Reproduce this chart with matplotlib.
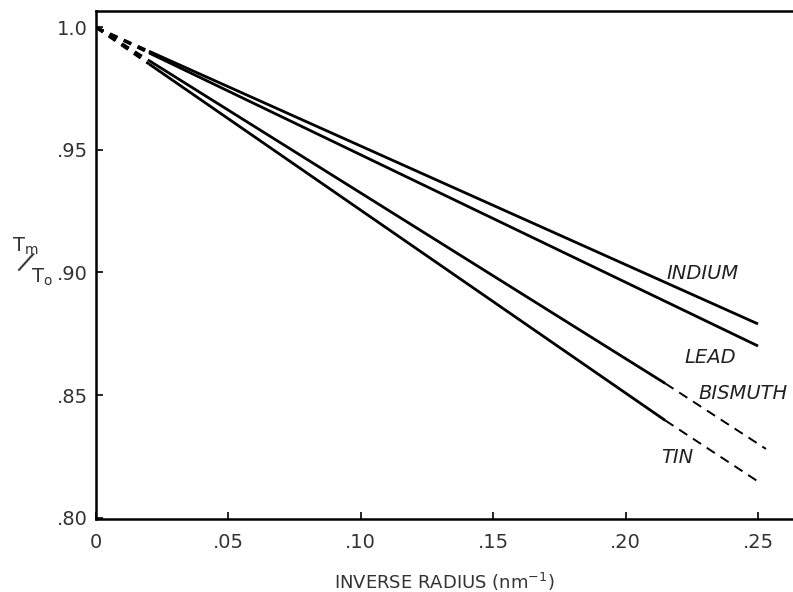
import matplotlib
matplotlib.use("Agg")
import matplotlib.pyplot as plt

# Data
metals = ["INDIUM", "LEAD", "BISMUTH", "TIN"]
x_start = [0.0, 0.0, 0.0, 0.0]
y_start = [1.0, 1.0, 1.0, 1.0]
x_solid0 = [0.02, 0.02, 0.02, 0.02]
y_solid0 = [0.9903, 0.9896, 0.9865, 0.9851]
x_solid1 = [0.25, 0.25, 0.215, 0.215]
y_solid1 = [0.879, 0.870, 0.8547, 0.8396]
x_end = [0.25, 0.25, 0.253, 0.2496]
y_end = [0.879, 0.870, 0.828, 0.815]

label_x = [0.229, 0.232, 0.2445, 0.2195]
label_y = [0.8997, 0.8653, 0.8508, 0.8244]

x_ticks = [0, 0.05, 0.10, 0.15, 0.20, 0.25]
x_ticklabels = ["0", ".05", ".10", ".15", ".20", ".25"]
y_ticks = [0.80, 0.85, 0.90, 0.95, 1.0]
y_ticklabels = [".80", ".85", ".90", ".95", "1.0"]

plt.rcParams["font.family"] = ["DejaVu Sans"]

fig = plt.figure(figsize=(7.93, 5.92), dpi=100)
ax = fig.add_axes([96 / 793, 1 - 519 / 592, 1 - 96 / 793, (519 - 11) / 592])

for i in range(len(metals)):
    ax.plot([x_start[i], x_solid0[i]], [y_start[i], y_solid0[i]],
            color="black", lw=2.0, ls=(0, (3, 2.5)), solid_capstyle="butt")
    ax.plot([x_solid0[i], x_solid1[i]], [y_solid0[i], y_solid1[i]],
            color="black", lw=2.0, solid_capstyle="butt")
    if x_end[i] > x_solid1[i]:
        ax.plot([x_solid1[i], x_end[i]], [y_solid1[i], y_end[i]],
                color="black", lw=1.4, ls=(0, (5, 3.5)))
    ax.text(label_x[i], label_y[i], metals[i], fontsize=14, style="italic",
            ha="center", va="center", color="#222222")

ax.set_xlim(0, (793 - 96) / 2648)
ax.set_ylim(0.7994, 1.0067)
ax.set_xticks(x_ticks)
ax.set_xticklabels(x_ticklabels)
ax.set_yticks(y_ticks)
ax.set_yticklabels(y_ticklabels)
ax.tick_params(direction="in", length=5, width=1.2, labelsize=14,
               colors="black", labelcolor="#333333")
ax.tick_params(axis="x", pad=10)
ax.tick_params(axis="y", pad=6)
ax.spines["right"].set_visible(False)
for s in ["left", "bottom", "top"]:
    ax.spines[s].set_linewidth(1.8)

ax.set_xlabel("INVERSE RADIUS (nm$^{-1}$)", fontsize=13, color="#333333",
              labelpad=14)

# y label as stacked fraction Tm / To
fig.text(12 / 793, 1 - 246 / 592, "T$_\\mathregular{m}$", fontsize=14,
         ha="left", va="center", color="#333333")
fig.text(25 / 793, 1 - 264 / 592, "/", fontsize=19, ha="center",
         va="center", color="#333333", rotation=-25)
fig.text(31 / 793, 1 - 277 / 592, "T$_\\mathregular{o}$", fontsize=14,
         ha="left", va="center", color="#333333")

fig.savefig("out.png", dpi=100)
